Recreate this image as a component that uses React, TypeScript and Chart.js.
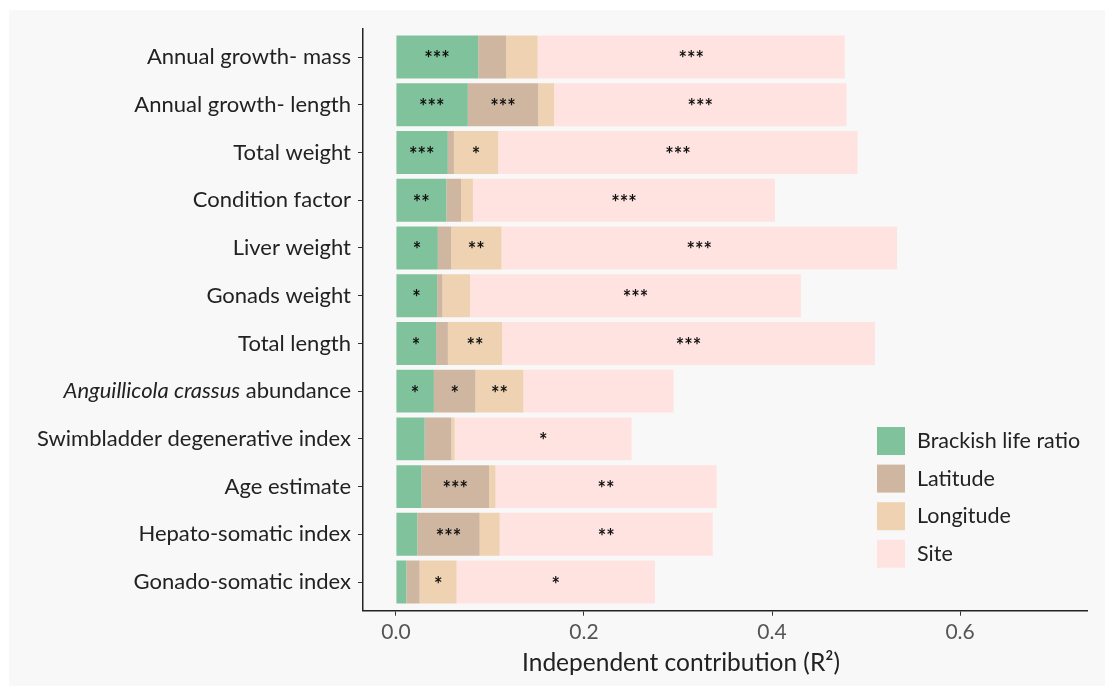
import React, { useEffect, useRef } from 'react';
import { Chart, registerables } from 'chart.js';

Chart.register(...registerables);

const categories = [
  'Annual growth- mass',
  'Annual growth- length',
  'Total weight',
  'Condition factor',
  'Liver weight',
  'Gonads weight',
  'Total length',
  'Anguillicola crassus abundance',
  'Swimbladder degenerative index',
  'Age estimate',
  'Hepato-somatic index',
  'Gonado-somatic index',
];
const italicPrefix = ['', '', '', '', '', '', '', 'Anguillicola crassus', '', '', '', ''];

const seriesNames = ['Brackish life ratio', 'Latitude', 'Longitude', 'Site'];
const seriesColors = ['#80C29B', '#CFB6A0', '#EED2B2', '#FFE3E0'];

const brackish = [0.0876, 0.0765, 0.0552, 0.0537, 0.0446, 0.0438, 0.0427, 0.0404, 0.0306, 0.0274, 0.0228, 0.0111];
const latitude = [0.0297, 0.0750, 0.0065, 0.0156, 0.0141, 0.0057, 0.0126, 0.0442, 0.0284, 0.0716, 0.0663, 0.0141];
const longitude = [0.0334, 0.0167, 0.0472, 0.0126, 0.0537, 0.0293, 0.0577, 0.0510, 0.0035, 0.0069, 0.0213, 0.0394];
const site = [0.3267, 0.3110, 0.3821, 0.3213, 0.4206, 0.3519, 0.3964, 0.1597, 0.1882, 0.2353, 0.2266, 0.2109];

const brackishStars = ['***', '***', '***', '**', '*', '*', '*', '*', '', '', '', ''];
const latitudeStars = ['', '***', '', '', '', '', '', '*', '', '***', '***', ''];
const longitudeStars = ['', '', '*', '', '**', '', '**', '**', '', '', '', '*'];
const siteStars = ['***', '***', '***', '***', '***', '***', '***', '', '*', '**', '**', '*'];

const xTicks = [0, 0.2, 0.4, 0.6];
const xTitle = 'Independent contribution (R²)';

const FONT = 'Lato, "Open Sans", sans-serif';

const seriesValues = [brackish, latitude, longitude, site];
const seriesStars = [brackishStars, latitudeStars, longitudeStars, siteStars];

const overlayPlugin = {
  id: 'overlay',
  afterDatasetsDraw(chart: any) {
    const ctx = chart.ctx;
    const xs = chart.scales.x;
    const ys = chart.scales.y;
    ctx.save();
    ctx.fillStyle = '#111';
    ctx.font = `bold 20px ${FONT}`;
    ctx.textAlign = 'center';
    ctx.textBaseline = 'middle';
    categories.forEach((_, i) => {
      let cum = 0;
      seriesValues.forEach((vals, s) => {
        const start = cum;
        cum += vals[i];
        const st = seriesStars[s][i];
        if (!st) return;
        const cx = (xs.getPixelForValue(start) + xs.getPixelForValue(cum)) / 2;
        const cy = ys.getPixelForValue(i) + 3;
        ctx.fillText(st, cx, cy);
      });
    });
    ctx.restore();
  },
  afterDraw(chart: any) {
    const ctx = chart.ctx;
    const ys = chart.scales.y;
    ctx.save();
    ctx.fillStyle = '#222';
    ctx.textBaseline = 'middle';
    ctx.textAlign = 'right';
    const rightX = chart.chartArea.left - 12;
    categories.forEach((label, i) => {
      const y = ys.getPixelForValue(i);
      const pre = italicPrefix[i];
      if (pre && label.startsWith(pre)) {
        const rest = label.slice(pre.length);
        ctx.font = `22px ${FONT}`;
        ctx.fillText(rest, rightX, y);
        const w = ctx.measureText(rest).width;
        ctx.font = `italic 22px ${FONT}`;
        ctx.fillText(pre, rightX - w, y);
      } else {
        ctx.font = `22px ${FONT}`;
        ctx.fillText(label, rightX, y);
      }
    });
    ctx.textAlign = 'left';
    ctx.font = `21.5px ${FONT}`;
    seriesNames.forEach((name, s) => {
      const top = 427 + s * 37.6;
      ctx.fillStyle = seriesColors[s];
      ctx.fillRect(877, top, 28, 28);
      ctx.fillStyle = '#222';
      ctx.fillText(name, 917, top + 14);
    });
    ctx.textAlign = 'center';
    ctx.font = `24.5px ${FONT}`;
    ctx.fillStyle = '#222';
    ctx.fillText(xTitle, 681, 663);
    ctx.restore();
  },
};

export default function App() {
  const ref = useRef<HTMLCanvasElement>(null);
  useEffect(() => {
    if (!ref.current) return;
    const chart = new Chart(ref.current, {
      type: 'bar',
      data: {
        datasets: seriesValues.map((vals, s) => ({
          label: seriesNames[s],
          data: vals.map((v, i) => ({ x: v, y: i })),
          backgroundColor: seriesColors[s],
          borderWidth: 0,
          barPercentage: 0.9,
          categoryPercentage: 1,
        })),
      },
      options: {
        indexAxis: 'y',
        responsive: false,
        animation: false,
        layout: { padding: { top: 28.4, right: 18, left: 0, bottom: 0 } },
        plugins: { legend: { display: false }, tooltip: { enabled: false } },
        scales: {
          x: {
            type: 'linear',
            stacked: true,
            min: -0.035,
            max: 0.735,
            afterBuildTicks: (scale: any) => {
              scale.ticks = xTicks.map((v) => ({ value: v }));
            },
            afterFit: (scale: any) => {
              scale.height = 686 - 610.7;
            },
            ticks: {
              callback: (v: any) => Number(v).toFixed(1),
              font: { family: FONT, size: 21 },
              color: '#555',
              padding: 4,
              maxRotation: 0,
            },
            grid: {
              display: true,
              drawOnChartArea: false,
              drawTicks: true,
              tickLength: 5,
              tickColor: '#333',
              lineWidth: 1,
            },
            border: { display: true, color: '#222', width: 1.5 },
          },
          y: {
            type: 'linear',
            stacked: true,
            reverse: true,
            offset: false,
            min: -0.6,
            max: 11.6,
            afterBuildTicks: (scale: any) => {
              scale.ticks = categories.map((_, i) => ({ value: i }));
            },
            afterFit: (scale: any) => {
              scale.width = 363;
            },
            ticks: { display: false },
            grid: {
              display: true,
              offset: false,
              drawOnChartArea: false,
              drawTicks: true,
              tickLength: 5,
              tickColor: '#333',
              lineWidth: 1,
            },
            border: { display: true, color: '#222', width: 1.5 },
          },
        },
      },
      plugins: [overlayPlugin],
    } as any);
    return () => chart.destroy();
  }, []);

  return (
    <div style={{ position: 'fixed', left: 0, top: 0, width: 1105, height: 686, background: '#fff' }}>
      <div style={{ position: 'absolute', left: 9, top: 10, right: 0, bottom: 0, background: '#F8F8F8' }} />
      <canvas ref={ref} width={1105} height={686} style={{ position: 'absolute', left: 0, top: 0, width: 1105, height: 686 }} />
    </div>
  );
}
